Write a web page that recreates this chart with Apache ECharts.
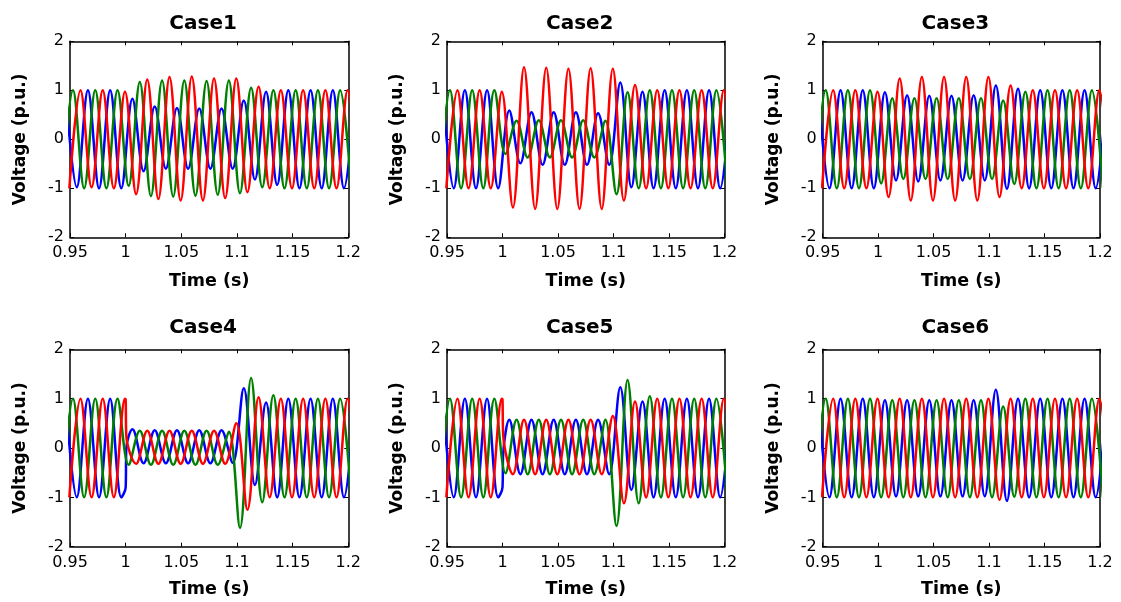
<!DOCTYPE html>
<html><head><meta charset="utf-8">
<script src="https://cdn.jsdelivr.net/npm/echarts@6/dist/echarts.min.js"></script>
<style>html,body{margin:0;padding:0;background:#fff}#chart{width:1121px;height:602px}</style>
</head><body><div id="chart"></div>
<script>
// ---------- data ----------
const caseNames = ['Case1', 'Case2', 'Case3', 'Case4', 'Case5', 'Case6'];
const xTickValues = [0.95, 1, 1.05, 1.1, 1.15, 1.2];
const yTickValues = [-2, -1, 0, 1, 2];
const xLabelText = 'Time (s)';
const yLabelText = 'Voltage (p.u.)';

// successive extrema (alternating peak / trough), one per half cycle (0.01 s at 50 Hz)
const halfPeriod = 0.01;
const blueFirstExtremumTime = 0.9461;
const greenFirstExtremumTime = 0.9427;
const redFirstExtremumTime = 0.9494;

const case1Blue  = [1,-0.98,1,-1,1,-1,0.83,-0.65,0.67,-0.6,0.64,-0.6,0.63,-0.6,0.63,-0.6,0.79,-0.82,0.97,-0.93,1,-1,1,-1,1,-1,1];
const case1Green = [-1,1,-1,1,-1,1,-0.95,1.17,-1.16,1.2,-1.17,1.2,-1.15,1.19,-1.13,1.2,-1.1,1.05,-0.98,1,-1,1,-1,1,-1,1,-1];
const case1Red   = [-1,1,-0.98,1,-1,0.97,-1.12,1.22,-1.22,1.27,-1.25,1.28,-1.25,1.24,-1.2,1.24,-1.08,1.07,-1,1,-1,1,-1,1,-1,1,-1];

const case2Blue  = [1,-1,1,-1,1,-1,0.59,-0.49,0.55,-0.52,0.55,-0.52,0.55,-0.52,0.53,-0.52,1.16,-0.98,0.97,-1,1,-1,1,-1,1,-1,1];
const case2Green = [-1,1,-1,1,-1,1,-0.3,0.38,-0.37,0.39,-0.37,0.39,-0.37,0.39,-0.37,0.38,-1.12,0.96,-1,1,-1,1,-1,1,-1,1,-1];
const case2Red   = [-1,1,-1,1,-1,0.97,-1.39,1.47,-1.42,1.46,-1.42,1.44,-1.42,1.45,-1.42,1.44,-1.25,1.11,-1,1,-1,1,-1,1,-1,1,-1];

const case3Blue  = [1,-1,1,-1,1,-1,0.96,-0.84,0.9,-0.86,0.89,-0.84,0.89,-0.84,0.9,-0.84,1.1,-1.01,1.03,-1,1,-1,1,-1,1,-1,1];
const case3Green = [-1,1,-1,1,-1,1,-0.9,0.84,-0.81,0.84,-0.81,0.84,-0.81,0.84,-0.81,0.84,-0.81,0.79,-0.91,0.97,-1,1,-1,1,-1,1,-1];
const case3Red   = [-1,1,-1,1,-1,0.97,-1.18,1.24,-1.25,1.27,-1.25,1.27,-1.25,1.27,-1.25,1.27,-1.18,1.1,-1,1,-1,1,-1,1,-1,1,-1];

const case4Blue  = [1,-1,1,-1,1,-1,0.38,-0.31,0.36,-0.31,0.36,-0.31,0.36,-0.31,0.36,-0.3,1.21,-0.75,0.92,-1,1,-1,1,-1,1,-1,1];
const case4Green = [-1,1,-1,1,-1,1,-0.34,0.35,-0.34,0.35,-0.34,0.35,-0.34,0.35,-0.34,0.33,-1.62,1.42,-1.1,1.07,-1,1,-1,1,-1,1,-1];
const case4Red   = [-1,1,-1,1,-1,1,-0.32,0.35,-0.32,0.35,-0.32,0.35,-0.32,0.35,-0.32,0.5,-1.25,1.03,-1,1,-1,1,-1,1,-1,1,-1];

const case5Blue  = [1,-1,1,-1,1,-1,0.57,-0.53,0.57,-0.53,0.57,-0.53,0.57,-0.53,0.57,-0.53,1.23,-0.85,0.94,-1,1,-1,1,-1,1,-1,1];
const case5Green = [-1,1,-1,1,-1,1,-0.51,0.57,-0.53,0.57,-0.53,0.57,-0.53,0.57,-0.53,0.57,-1.58,1.38,-1.12,1.05,-1,1,-1,1,-1,1,-1];
const case5Red   = [-1,1,-1,1,-1,1,-0.53,0.57,-0.53,0.57,-0.53,0.57,-0.53,0.57,-0.53,0.65,-1.12,0.94,-1,1,-1,1,-1,1,-1,1,-1];

const case6Blue  = [1,-1,1,-1,1,-1,0.97,-0.98,0.97,-0.98,0.97,-0.98,0.97,-0.98,0.97,-0.98,1.18,-1.07,1,-1,1,-1,1,-1,1,-1,1];
const case6Green = [-1,1,-1,1,-1,1,-1,0.97,-1,0.97,-1,0.97,-1,0.97,-1,0.97,-1,0.84,-0.99,1,-1,1,-1,1,-1,1,-1];
const case6Red   = [-1,1,-1,1,-1,1,-1,1,-1,1,-1,1,-1,1,-1,1,-1.05,1,-1,1,-1,1,-1,1,-1,1,-1];

// abrupt steps at the fault instant (time, value)
const case4RedSteps  = [[1.0, 0.98], [1.0006, 0.25]];
const case4BlueSteps = [[1.0, -0.8], [1.0006, 0.0]];
const case5RedSteps  = [[1.0, 0.98], [1.0006, 0.28]];
const case5BlueSteps = [[1.0, -0.8], [1.0006, -0.12]];

const caseBlue  = [case1Blue, case2Blue, case3Blue, case4Blue, case5Blue, case6Blue];
const caseGreen = [case1Green, case2Green, case3Green, case4Green, case5Green, case6Green];
const caseRed   = [case1Red, case2Red, case3Red, case4Red, case5Red, case6Red];
const caseBlueSteps  = [[], [], [], case4BlueSteps, case5BlueSteps, []];
const caseGreenSteps = [[], [], [], [], [], []];
const caseRedSteps   = [[], [], [], case4RedSteps, case5RedSteps, []];

// ---------- layout & style ----------
const FONT = 'DejaVu Sans';
const colLeft = [70, 447, 822.7];
const colWidth = [278.3, 277.5, 277.3];
const rowTop = [41.3, 349.3];
const rowHeight = [196, 197.4];
const titleY = [23.5, 328];
const xNameY = [281, 589];

const toPoints = (vals, t0, steps) =>
  vals.map((v, k) => [t0 + k * halfPeriod, v]).concat(steps).sort((a, b) => a[0] - b[0]);

const grids = [], xAxes = [], yAxes = [], series = [], graphics = [];
const axisLineStyle = { color: '#000', width: 1.5 };
for (let i = 0; i < 6; i++) {
  const r = Math.floor(i / 3), c = i % 3;
  grids.push({ left: colLeft[c], top: rowTop[r], width: colWidth[c], height: rowHeight[r], containLabel: false });
  const xBase = {
    gridIndex: i, type: 'value', min: xTickValues[0], max: xTickValues[xTickValues.length - 1],
    interval: 0.05, splitLine: { show: false },
    axisLine: { show: true, onZero: false, lineStyle: axisLineStyle },
    axisTick: { show: true, inside: true, length: 4, lineStyle: { color: '#000', width: 1 } }
  };
  xAxes.push(Object.assign({}, xBase, {
    position: 'bottom',
    axisLabel: { show: true, margin: 8, color: '#000', fontFamily: FONT, fontSize: 16,
      formatter: v => String(+(+v).toFixed(2)) }
  }));
  xAxes.push(Object.assign({}, xBase, { position: 'top', axisLabel: { show: false } }));
  const yBase = {
    gridIndex: i, type: 'value', min: yTickValues[0], max: yTickValues[yTickValues.length - 1],
    interval: 1, splitLine: { show: false },
    axisLine: { show: true, onZero: false, lineStyle: axisLineStyle },
    axisTick: { show: true, inside: true, length: 4, lineStyle: { color: '#000', width: 1 } }
  };
  yAxes.push(Object.assign({}, yBase, {
    position: 'left',
    axisLabel: { show: true, margin: 6, color: '#000', fontFamily: FONT, fontSize: 16 }
  }));
  yAxes.push(Object.assign({}, yBase, { position: 'right', axisLabel: { show: false } }));

  const phases = [
    [caseBlue[i], blueFirstExtremumTime, caseBlueSteps[i], '#0000ff'],
    [caseGreen[i], greenFirstExtremumTime, caseGreenSteps[i], '#008000'],
    [caseRed[i], redFirstExtremumTime, caseRedSteps[i], '#ff0000']
  ];
  phases.forEach(([vals, t0, steps, col]) => {
    series.push({
      type: 'line', xAxisIndex: 2 * i, yAxisIndex: 2 * i,
      data: toPoints(vals, t0, steps), smooth: 0.36, showSymbol: false, symbol: 'none',
      clip: true, lineStyle: { color: col, width: 2.5 }, itemStyle: { color: col },
      silent: true
    });
  });

  const cx = colLeft[c] + colWidth[c] / 2;
  const cy = rowTop[r] + rowHeight[r] / 2;
  graphics.push({ type: 'text', x: cx - 6, y: titleY[r],
    style: { text: caseNames[i], font: 'bold 20px "' + FONT + '"', fill: '#000', align: 'center', verticalAlign: 'middle' } });
  graphics.push({ type: 'text', x: cx, y: xNameY[r],
    style: { text: xLabelText, font: 'bold 17.5px "' + FONT + '"', fill: '#000', align: 'center', verticalAlign: 'middle' } });
  graphics.push({ type: 'text', x: colLeft[c] - 49, y: cy, rotation: Math.PI / 2,
    style: { text: yLabelText, font: 'bold 17px "' + FONT + '"', fill: '#000', align: 'center', verticalAlign: 'middle' } });
}

const chart = echarts.init(document.getElementById('chart'), null, { renderer: 'canvas' });
chart.setOption({
  animation: false,
  backgroundColor: '#fff',
  grid: grids, xAxis: xAxes, yAxis: yAxes, series: series, graphic: graphics
});
</script></body></html>
